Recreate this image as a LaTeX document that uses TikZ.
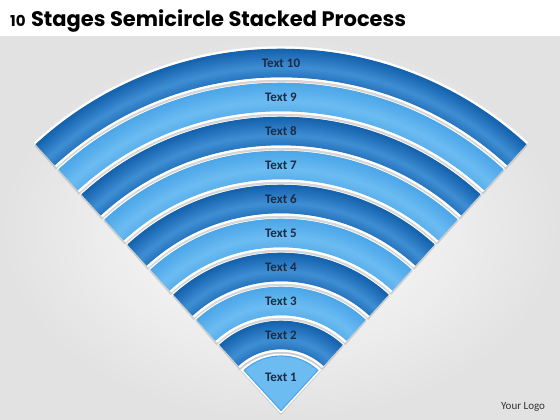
\documentclass[tikz,border=0pt]{standalone}
\usepackage{fontspec}
\setmainfont{Carlito}
\newfontfamily\titlefont{Poppins}
\usetikzlibrary{positioning}
\definecolor{darkedge}{HTML}{1460AD}
\definecolor{darkmid}{HTML}{3F8FD4}
\definecolor{lightedge}{HTML}{4CA6E8}
\definecolor{lightmid}{HTML}{6CBCF2}
\definecolor{labelink}{HTML}{1D2B45}
\definecolor{bggray}{HTML}{E2E2E2}

\begin{document}
\begin{tikzpicture}[x=1pt,y=1pt,
lbl/.style={font=\bfseries\fontsize{13}{15}\selectfont,text=labelink,inner sep=0pt},
shadowband/.style={line width=32pt,draw=black!35,opacity=.45},
rimband/.style={line width=33.5pt,draw=white},
titletext/.style={anchor=base west,inner sep=0pt,font=\titlefont\bfseries\fontsize{#1}{#1}\selectfont}]
\useasboundingbox (0,0) rectangle (560,420);
\fill[white] (0,0) rectangle (560,420);
\shade[inner color=white,outer color=bggray] (0,0) rectangle (560,383);
\coordinate (apex) at (281,8);
\foreach \k in {2,...,10}{
  \pgfmathsetmacro{\ri}{63+34*(\k-2)}
  \pgfmathsetmacro{\rc}{\ri+14}
  \ifodd\k \def\bedge{lightedge}\def\bmid{lightmid}\else\def\bedge{darkedge}\def\bmid{darkmid}\fi
  \draw[shadowband] ([yshift=-3pt]apex) ++(47.5:\rc) arc[start angle=47.5,end angle=132.5,radius=\rc];
  \draw[rimband] (apex) ++(47.5:\rc) arc[start angle=47.5,end angle=132.5,radius=\rc];
  \draw[line width=28pt,draw=\bmid] (apex) ++(47.5:\rc) arc[start angle=47.5,end angle=132.5,radius=\rc];
  \foreach \j in {0,...,13}{
    \pgfmathsetmacro{\r}{\ri+\j*2+1}
    \pgfmathsetmacro{\p}{100*abs((\j+0.5)/14-0.35)/0.65}
    \draw[line width=2.6pt,draw=\bedge!\p!\bmid] (apex) ++(47.5:\r) arc[start angle=47.5,end angle=132.5,radius=\r];
  }
  \node[lbl] (t\k) at ([shift={(90:\rc)}]apex) {Text \k};
}
\fill[black!35,opacity=.45] ([yshift=-3pt]apex) -- ++(47.5:59) arc[start angle=47.5,end angle=132.5,radius=59] -- cycle;
\filldraw[lightmid,draw=white,line width=2.5pt,line join=round] (apex) -- ++(47.5:57) arc[start angle=47.5,end angle=132.5,radius=57] -- cycle;
\draw[lightedge,line width=1.2pt,line join=round] ([yshift=1.5pt]apex) -- ++(47.5:54.5) arc[start angle=47.5,end angle=132.5,radius=54.5] -- cycle;
\node[lbl] (t1) at ([shift={(90:35)}]apex) {Text 1};
\node[titletext=15] (num) at (10,393) {10};
\node[titletext=21] (title) at ([xshift=5pt]num.base east) {Stages Semicircle Stacked Process};
\node[anchor=base west,inner sep=0pt,font=\fontsize{11}{13}\selectfont,text=black!80] (logo) at (501,10) {Your Logo};
\end{tikzpicture}
\end{document}
